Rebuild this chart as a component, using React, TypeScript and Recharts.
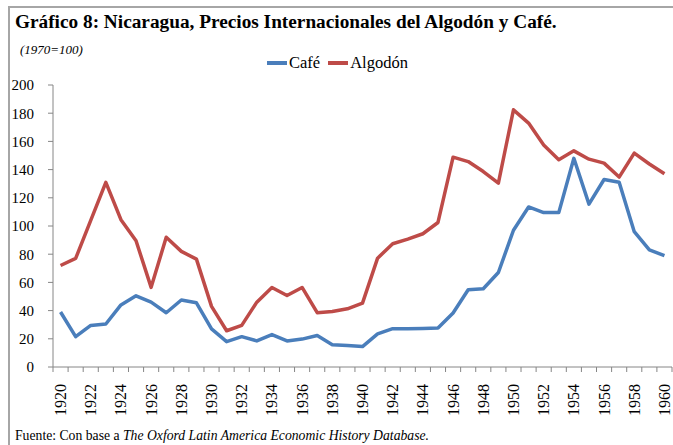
import { LineChart, Line, XAxis, YAxis } from "recharts";

const years = [
  "1920", "1921", "1922", "1923", "1924", "1925", "1926", "1927", "1928", "1929",
  "1930", "1931", "1932", "1933", "1934", "1935", "1936", "1937", "1938", "1939",
  "1940", "1941", "1942", "1943", "1944", "1945", "1946", "1947", "1948", "1949",
  "1950", "1951", "1952", "1953", "1954", "1955", "1956", "1957", "1958", "1959",
  "1960",
];

const cafe = [
  39, 21.5, 29.5, 30.5, 44, 50.5, 46, 38.5, 47.5, 45.5,
  27, 18, 21.5, 18.5, 23, 18.5, 19.8, 22.3, 15.8, 15.3,
  14.5, 23.5, 27.2, 27.2, 27.3, 27.6, 38.3, 54.8, 55.5, 67,
  97, 113.5, 109.5, 109.5, 148, 115.5, 133, 131, 96, 83,
  79,
];

const algodon = [
  72, 77, 104, 131, 104.5, 89.5, 56.5, 92, 82, 76.5,
  43, 25.7, 29.5, 46, 56.4, 50.7, 56.4, 38.5, 39.3, 41.3,
  45.3, 77.2, 87.4, 90.7, 94.5, 102.5, 148.8, 145.7, 138.6, 130.4,
  182.4, 173, 157.5, 147, 153.3, 147.4, 144.6, 134.7, 151.7, 144,
  137,
];

const yTicks = [0, 20, 40, 60, 80, 100, 120, 140, 160, 180, 200];

const data = years.map((year, i) => ({ year, cafe: cafe[i], algodon: algodon[i] }));

const BLUE = "#4a7ebb";
const RED = "#be4b48";
const AXIS = "#868686";
const FONT = "'Liberation Serif', serif";

// tick marks sit between categories (Excel style), labels every other year
function YearTick(props: any) {
  const { x, y, payload, index } = props;
  const half = payload && payload.offset ? payload.offset : 619 / 41 / 2;
  const last = index === years.length - 1;
  return (
    <g>
      <line x1={x - half} x2={x - half} y1={y - 5} y2={y} stroke={AXIS} />
      {last && <line x1={x + half} x2={x + half} y1={y - 5} y2={y} stroke={AXIS} />}
      {index % 2 === 0 && (
        <text
          x={x}
          y={y + 12}
          transform={`rotate(-90, ${x}, ${y + 12})`}
          textAnchor="end"
          dominantBaseline="central"
          fontFamily={FONT}
          fontSize="16px"
          fill="#000"
        >
          {payload.value}
        </text>
      )}
    </g>
  );
}

export default function App() {
  return (
    <div style={{ position: "absolute", left: 0, top: 0, width: 673, height: 445, background: "#fff", overflow: "hidden" }}>
      <div
        style={{
          position: "absolute",
          left: 8,
          top: 6,
          width: 680,
          height: 460,
          borderTop: "2px solid #a6a6a6",
          borderLeft: "2px solid #a6a6a6",
        }}
      />
      <div style={{ position: "absolute", left: 15, top: 11, fontFamily: FONT, fontWeight: "bold", fontSize: 19.3, whiteSpace: "nowrap" }}>
        Gráfico 8: Nicaragua, Precios Internacionales del Algodón y Café.
      </div>
      <div style={{ position: "absolute", left: 20, top: 42, fontFamily: FONT, fontStyle: "italic", fontSize: 13, whiteSpace: "nowrap" }}>
        (1970=100)
      </div>
      <div
        style={{
          position: "absolute",
          left: 267,
          top: 53,
          display: "flex",
          alignItems: "center",
          fontFamily: FONT,
          fontSize: 16.5,
          whiteSpace: "nowrap",
        }}
      >
        <span style={{ width: 20, height: 3.5, background: BLUE, marginRight: 2 }} />
        <span>Café</span>
        <span style={{ width: 20, height: 3.5, background: RED, marginLeft: 8, marginRight: 2 }} />
        <span>Algodón</span>
      </div>

      <div style={{ position: "absolute", left: 0, top: 0 }}>
        <LineChart width={673} height={445} data={data} margin={{ top: 85, right: 1, bottom: 0, left: 0 }}>
          <XAxis
            dataKey="year"
            scale="band"
            interval={0}
            height={78}
            tickSize={5}
            tickMargin={0}
            tickLine={false}
            axisLine={{ stroke: AXIS }}
            tick={<YearTick />}
          />
          <YAxis
            width={53}
            domain={[0, 200]}
            ticks={yTicks}
            interval={0}
            tickSize={5}
            tickMargin={14}
            axisLine={{ stroke: AXIS }}
            tickLine={{ stroke: AXIS }}
            tick={{ fontFamily: FONT, fontSize: 15, fill: "#000" }}
          />
          <Line
            dataKey="cafe"
            name="Café"
            stroke={BLUE}
            strokeWidth={3.5}
            strokeLinejoin="round"
            dot={false}
            isAnimationActive={false}
          />
          <Line
            dataKey="algodon"
            name="Algodón"
            stroke={RED}
            strokeWidth={3.5}
            strokeLinejoin="round"
            dot={false}
            isAnimationActive={false}
          />
        </LineChart>
      </div>

      <div style={{ position: "absolute", left: 15, top: 428, fontFamily: FONT, fontSize: 13.7, whiteSpace: "nowrap" }}>
        Fuente: Con base a <i>The Oxford Latin America Economic History Database.</i>
      </div>
    </div>
  );
}
